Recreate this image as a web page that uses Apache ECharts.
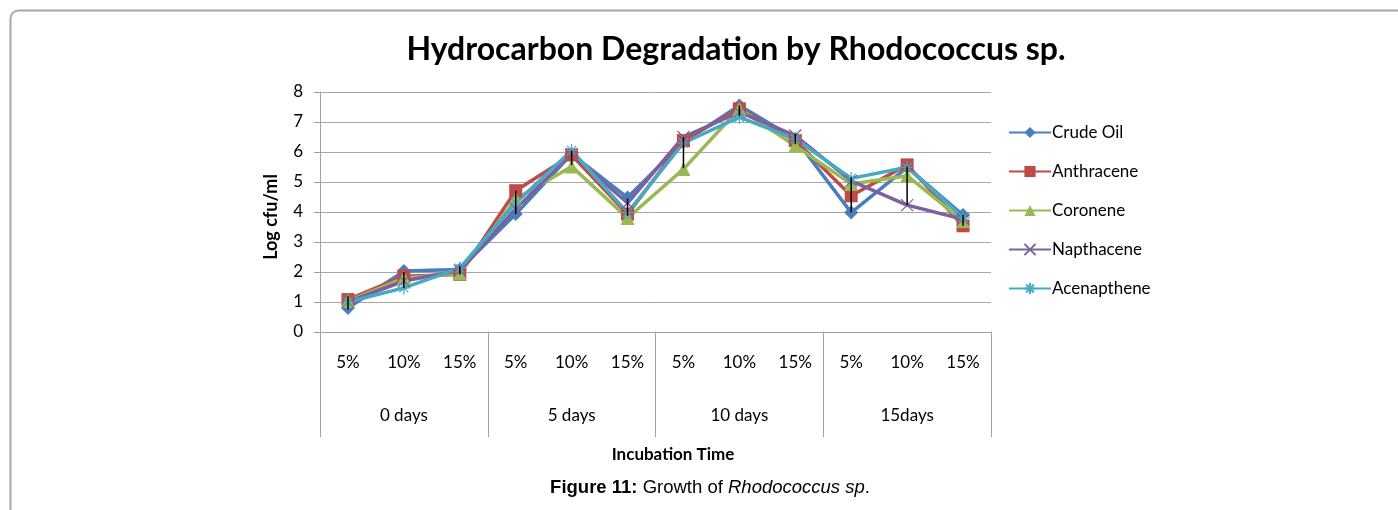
<!DOCTYPE html>
<html lang="en">
<head>
  <meta charset="UTF-8">
  <title>Hydrocarbon Degradation by Rhodococcus sp.</title>
  <script src="https://cdn.jsdelivr.net/npm/echarts@6/dist/echarts.min.js"></script>
  <style>
    html, body { margin: 0; padding: 0; background: #fff; }
    #chart { width: 1398px; height: 510px; }
  </style>
</head>
<body>
  <div id="chart"></div>
  <script>
    // categories
    var concLabels = ['5%', '10%', '15%', '5%', '10%', '15%', '5%', '10%', '15%', '5%', '10%', '15%'];
    var dayLabels = ['0 days', '5 days', '10 days', '15days'];
    var yTicks = [0, 1, 2, 3, 4, 5, 6, 7, 8];

    // series values (Log cfu/ml)
    var crudeOil    = [0.80, 2.03, 2.08, 3.93, 5.93, 4.48, 6.33, 7.55, 6.44, 3.98, 5.49, 3.90];
    var anthracene  = [1.08, 1.86, 1.92, 4.71, 5.90, 3.93, 6.38, 7.44, 6.38, 4.54, 5.57, 3.54];
    var coronene    = [1.03, 1.80, 1.95, 4.43, 5.52, 3.80, 5.43, 7.44, 6.21, 4.93, 5.21, 3.70];
    var napthacene  = [1.00, 1.70, 2.05, 4.10, 5.93, 4.30, 6.50, 7.33, 6.55, 5.04, 4.23, 3.76];
    var acenapthene = [1.00, 1.47, 2.13, 4.30, 6.05, 3.98, 6.30, 7.16, 6.44, 5.12, 5.49, 3.82];

    // black range bars
    var errLow  = [0.75, 1.47, 1.92, 3.93, 5.57, 3.87, 5.46, 7.20, 6.27, 3.98, 4.23, 3.54];
    var errHigh = [1.19, 2.00, 2.20, 4.71, 6.05, 4.45, 6.50, 7.55, 6.60, 5.15, 5.52, 3.90];

    var font = 'Lato';
    var myChart = echarts.init(document.getElementById('chart'));

    var xSym = 'path://M0,0L10,10M10,0L0,10';
    var starSym = 'path://M0,5L10,5M5,0L5,10M1.5,1.5L8.5,8.5M8.5,1.5L1.5,8.5';

    function lineSeries(name, data, color, symbol, size) {
      return {
        name: name,
        type: 'line',
        data: data,
        symbol: symbol,
        symbolSize: size,
        lineStyle: { color: color, width: 3.5 },
        itemStyle: { color: color, borderColor: color, borderWidth: symbol.indexOf('path') === 0 ? 1.2 : 0 },
        emphasis: { disabled: true }
      };
    }

    var errData = errLow.map(function (v, i) { return [i, v, errHigh[i]]; });

    var option = {
      animation: false,
      backgroundColor: '#fff',
      title: {
        text: 'Hydrocarbon Degradation by Rhodococcus sp.',
        left: 731,
        top: 29,
        textAlign: 'center',
        textStyle: { fontFamily: font, fontWeight: 'bold', fontSize: 32, color: '#000' }
      },
      legend: {
        orient: 'vertical',
        left: 1003,
        top: 119,
        itemWidth: 42,
        itemHeight: 14,
        itemGap: 22,
        data: ['Crude Oil', 'Anthracene', 'Coronene', 'Napthacene', 'Acenapthene'],
        textStyle: { fontFamily: font, fontSize: 17, color: '#000', padding: [0, 0, 0, -4] }
      },
      grid: { left: 320, right: 407, top: 92, bottom: 178, containLabel: false },
      xAxis: [{
        type: 'category',
        data: concLabels,
        boundaryGap: true,
        axisLine: { lineStyle: { color: '#a0a0a0', width: 1 } },
        axisTick: { show: false },
        axisLabel: { margin: 22, fontFamily: font, fontSize: 17, color: '#000' }
      }, {
        type: 'category',
        data: dayLabels,
        position: 'bottom',
        boundaryGap: true,
        axisLine: { lineStyle: { color: '#a0a0a0', width: 1 } },
        axisTick: { show: true, length: 105, lineStyle: { color: '#a0a0a0' } },
        axisLabel: { margin: 75, fontFamily: font, fontSize: 17, color: '#000' }
      }],
      yAxis: {
        type: 'value',
        min: yTicks[0],
        max: yTicks[yTicks.length - 1],
        interval: 1,
        axisLine: { show: true, lineStyle: { color: '#a0a0a0' } },
        axisTick: { show: true, length: 6, lineStyle: { color: '#a0a0a0' } },
        axisLabel: { margin: 17, fontFamily: font, fontSize: 17, color: '#000' },
        splitLine: { lineStyle: { color: '#a6a6a6', width: 1 } }
      },
      series: [
        lineSeries('Crude Oil', crudeOil, '#4a7ebb', 'diamond', 14),
        lineSeries('Anthracene', anthracene, '#be4b48', 'rect', 13),
        lineSeries('Coronene', coronene, '#98b954', 'triangle', 14),
        lineSeries('Napthacene', napthacene, '#7d60a0', xSym, 12),
        lineSeries('Acenapthene', acenapthene, '#46aac5', starSym, 13),
        {
          name: 'range',
          type: 'custom',
          data: errData,
          encode: { x: 0, y: [1, 2] },
          z: 10,
          renderItem: function (params, api) {
            var p1 = api.coord([api.value(0), api.value(1)]);
            var p2 = api.coord([api.value(0), api.value(2)]);
            return {
              type: 'line',
              shape: { x1: p1[0], y1: p1[1], x2: p2[0], y2: p2[1] },
              style: { stroke: '#000', lineWidth: 1.5 }
            };
          }
        }
      ],
      graphic: [{
        type: 'rect',
        shape: { x: 10.5, y: 10.5, width: 1420, height: 540, r: 8 },
        style: { fill: null, stroke: '#a8a8a8', lineWidth: 2 },
        silent: true
      }, {
        type: 'text',
        x: 271,
        y: 217,
        rotation: Math.PI / 2,
        style: {
          text: 'Log cfu/ml',
          font: 'bold 18px Lato',
          fill: '#000',
          align: 'center',
          verticalAlign: 'middle'
        }
      }, {
        type: 'text',
        x: 673,
        y: 455,
        style: {
          text: 'Incubation Time',
          font: 'bold 17px Lato',
          fill: '#000',
          align: 'center',
          verticalAlign: 'middle'
        }
      }, {
        type: 'text',
        x: 710,
        y: 488,
        style: {
          text: '{b|Figure 11:} Growth of {i|Rhodococcus sp}.',
          font: '18.5px "Liberation Sans"',
          fill: '#000',
          align: 'center',
          verticalAlign: 'middle',
          rich: {
            b: { fontFamily: 'Liberation Sans', fontWeight: 'bold', fontSize: 18.5, fill: '#000' },
            i: { fontFamily: 'Liberation Sans', fontStyle: 'italic', fontSize: 18.5, fill: '#000' }
          }
        }
      }]
    };

    myChart.setOption(option);
  </script>
</body>
</html>
